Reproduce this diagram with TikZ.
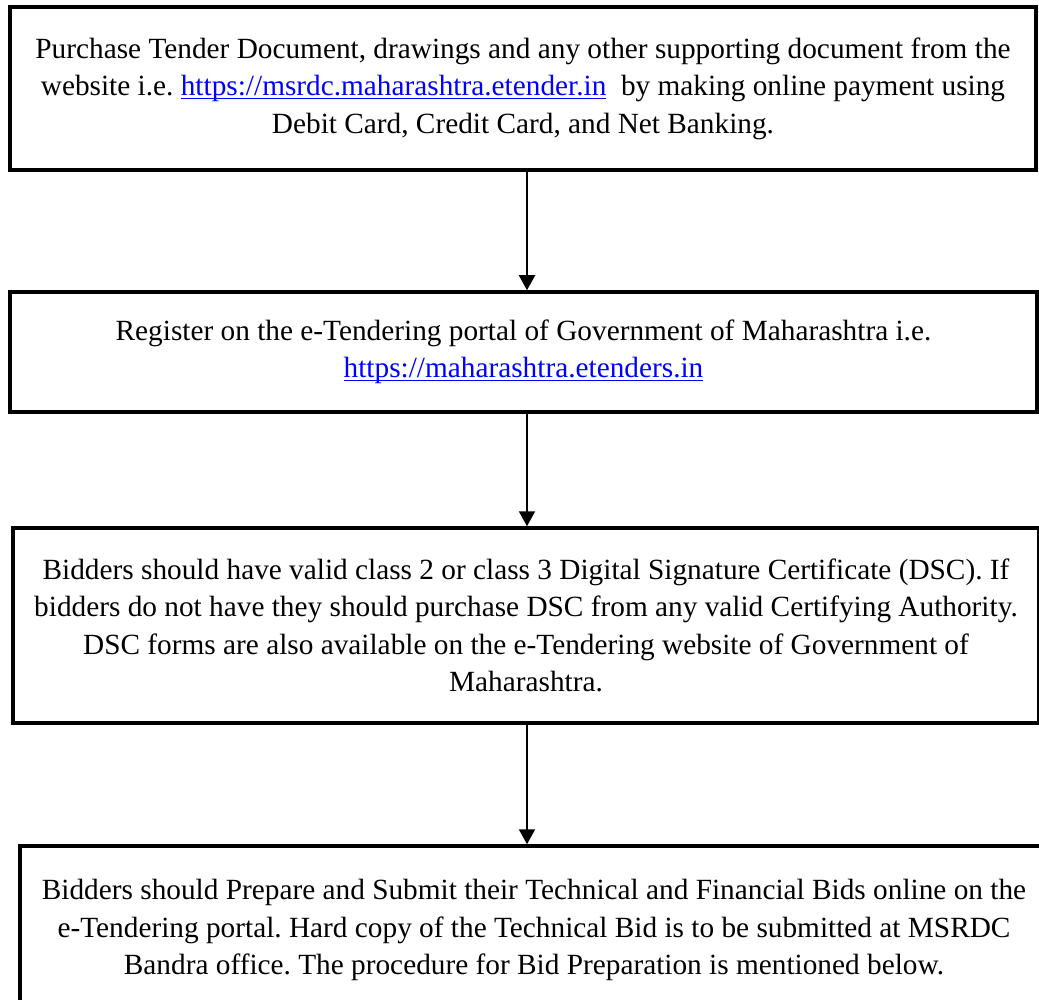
\documentclass[tikz,border=0pt]{standalone}
\usepackage{fontspec}
\setmainfont{Liberation Serif}
\usepackage{tikz}
\usetikzlibrary{arrows.meta}

\definecolor{linkblue}{RGB}{0,0,255}
\newcommand{\weblink}[1]{\textcolor{linkblue}{\setbox0\hbox{#1}\rlap{\rule[-1.6pt]{\wd0}{0.65pt}}\box0}}
\frenchspacing

\tikzset{
  stepbox/.style={draw, line width=1.75pt, align=center, inner sep=0pt,
    font=\fontsize{14.65}{18.75}\selectfont},
  flowarrow/.style={line width=1pt, -{Triangle[length=7.5pt, width=8pt]}}
}

\begin{document}
\begin{tikzpicture}[x=0.5pt, y=-0.5pt]
			\useasboundingbox (0,0) rectangle (1039,1000);
			\coordinate (spine) at (527,0);
			% the four steps
			\node[stepbox, minimum width=513pt, minimum height=81.5pt] (purchase) at (523,88.5)
				{Purchase Tender Document, drawings and any other supporting document from the\\
				 website i.e. \weblink{https://msrdc.maharashtra.etender.in}\ \ by making online payment using\\
				 Debit Card, Credit Card, and Net Banking.};
			\node[stepbox, minimum width=513.5pt, minimum height=60pt] (register) at (523.5,352)
				{Register on the e-Tendering portal of Government of Maharashtra i.e.\\
				 \weblink{https://maharashtra.etenders.in}};
			\node[stepbox, minimum width=513pt, minimum height=97.5pt] (dsc) at (526,625.5)
				{Bidders should have valid class 2 or class 3 Digital Signature Certificate (DSC). If\\
				 bidders do not have they should purchase DSC from any valid Certifying Authority.\\
				 DSC forms are also available on the e-Tendering website of Government of\\
				 Maharashtra.};
			\node[stepbox, minimum width=514pt, minimum height=84pt] (submit) at (534,930)
				{Bidders should Prepare and Submit their Technical and Financial Bids online on the\\
				 e-Tendering portal. Hard copy of the Technical Bid is to be submitted at MSRDC\\
				 Bandra office. The procedure for Bid Preparation is mentioned below.};
			% connectors
			\draw[flowarrow] (purchase.south -| spine) -- (register.north -| spine);
			\draw[flowarrow] (register.south -| spine) -- (dsc.north -| spine);
			\draw[flowarrow] (dsc.south -| spine) -- (submit.north -| spine);
		\end{tikzpicture}
\end{document}
